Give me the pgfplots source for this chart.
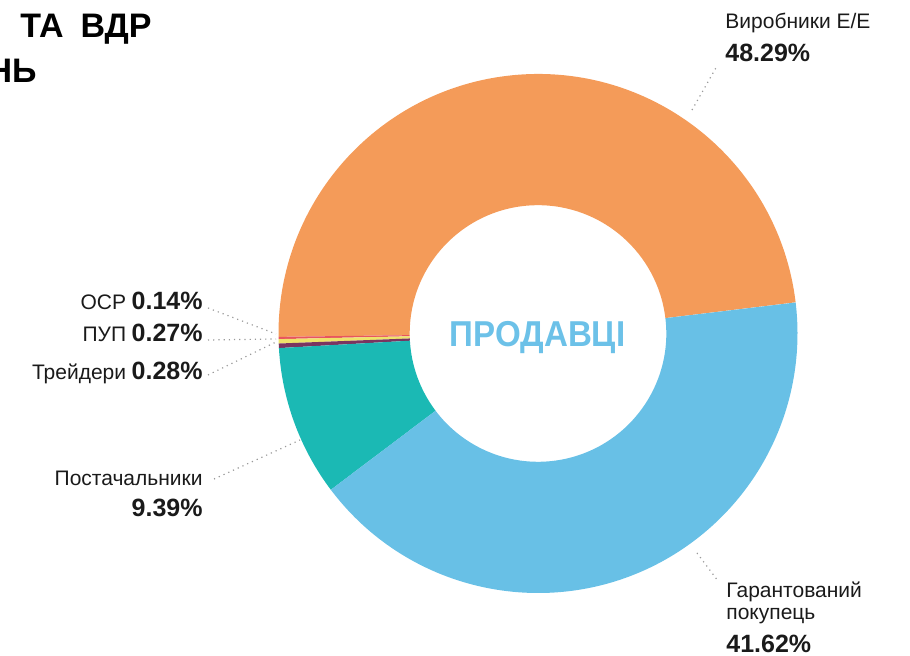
\documentclass[border=0pt]{standalone}
\usepackage{pgfplots}
\pgfplotsset{compat=1.18}
\usepackage{pgfplotstable}
\usetikzlibrary{calc}
\usepackage{fontspec}
\setmainfont{Liberation Sans}

\definecolor{cOrange}{HTML}{F49B59}
\definecolor{cBlue}{HTML}{68C0E6}
\definecolor{cTeal}{HTML}{1BB9B4}
\definecolor{cRed}{HTML}{E8555F}
\definecolor{cYellow}{HTML}{EEE36A}
\definecolor{cPurple}{HTML}{7A3560}
\definecolor{cTitle}{HTML}{6CC1E8}
\definecolor{cText}{HTML}{1A1A1A}
\definecolor{cLine}{HTML}{9A9A9A}

% shares of the sellers, in %, in drawing order (counter-clockwise)
\pgfplotstableread{
name value
Vyrobnyky 48.29
OSR 0.14
PUP 0.27
Treidery 0.28
Postachalnyky 9.39
Garantovanyi 41.62
}\datatable

\newcommand\lab[1]{{\fontsize{10.5}{12}\selectfont #1}}
\newcommand\pct[1]{{\fontsize{12.5}{14}\selectfont\bfseries #1}}

\begin{document}
\begin{tikzpicture}
\pgfplotstablegetelem{0}{value}\of\datatable \let\vA\pgfplotsretval
\pgfplotstablegetelem{1}{value}\of\datatable \let\vB\pgfplotsretval
\pgfplotstablegetelem{2}{value}\of\datatable \let\vC\pgfplotsretval
\pgfplotstablegetelem{3}{value}\of\datatable \let\vD\pgfplotsretval
\pgfplotstablegetelem{4}{value}\of\datatable \let\vE\pgfplotsretval
\pgfplotstablegetelem{5}{value}\of\datatable \let\vF\pgfplotsretval
\pgfmathsetmacro\aA{6.9}
\pgfmathsetmacro\aB{\aA+3.6*\vA}
\pgfmathsetmacro\aC{\aB+3.6*\vB}
\pgfmathsetmacro\aD{\aC+3.6*\vC}
\pgfmathsetmacro\aE{\aD+3.6*\vD}
\pgfmathsetmacro\aF{\aE+3.6*\vE}
\pgfmathsetmacro\aG{\aF+3.6*\vF}
\useasboundingbox (0,0) rectangle (455pt,328pt);
\clip (0,0) rectangle (455pt,328pt);
\begin{axis}[
  at={(0,0)}, anchor=south west,
  scale only axis, width=455pt, height=328pt,
  xmin=0, xmax=910, ymin=0, ymax=656,
  hide axis, clip=false,
]
\newcommand\sector[3]{%
  \fill[#3] ($(axis cs:538,322.5)+(#1:129.75pt)$)
    arc[start angle=#1, end angle=#2, radius=129.75pt]
    -- ($(axis cs:538,322.5)+(#2:64.15pt)$)
    arc[start angle=#2, end angle=#1, radius=64.15pt] -- cycle;}
\sector{\aA}{\aB}{cOrange}
\sector{\aB}{\aC}{cRed}
\sector{\aC}{\aD}{cYellow}
\sector{\aD}{\aE}{cPurple}
\sector{\aE}{\aF}{cTeal}
\sector{\aF}{\aG}{cBlue}

% leader lines
\draw[cLine, dotted, line width=0.6pt] (axis cs:692,546) -- (axis cs:717,590);
\draw[cLine, dotted, line width=0.6pt] (axis cs:697,103) -- (axis cs:718,75);
\draw[cLine, dotted, line width=0.6pt] (axis cs:214,177) -- (axis cs:300,216);
\draw[cLine, dotted, line width=0.6pt] (axis cs:208,348) -- (axis cs:276,322);
\draw[cLine, dotted, line width=0.6pt] (axis cs:208,316) -- (axis cs:276,317);
\draw[cLine, dotted, line width=0.6pt] (axis cs:208,281) -- (axis cs:276,314);

% labels
\node[anchor=base west, inner sep=0, text=cText] at (axis cs:725,627) {\lab{Виробники Е/Е}};
\node[anchor=base west, inner sep=0, text=cText] at (axis cs:725,594) {\pct{48.29\%}};
\node[anchor=base west, inner sep=0, text=cText] at (axis cs:726,58) {\lab{Гарантований}};
\node[anchor=base west, inner sep=0, text=cText] at (axis cs:726,36) {\lab{покупець}};
\node[anchor=base west, inner sep=0, text=cText] at (axis cs:726,3) {\pct{41.62\%}};
\node[anchor=base east, inner sep=0, text=cText] at (axis cs:203,170) {\lab{Постачальники}};
\node[anchor=base east, inner sep=0, text=cText] at (axis cs:203,139) {\pct{9.39\%}};
\node[anchor=base east, inner sep=0, text=cText] at (axis cs:203,346) {\lab{ОСР} \pct{0.14\%}};
\node[anchor=base east, inner sep=0, text=cText] at (axis cs:203,314) {\lab{ПУП} \pct{0.27\%}};
\node[anchor=base east, inner sep=0, text=cText] at (axis cs:203,276) {\lab{Трейдери} \pct{0.28\%}};

% centre caption
\node[anchor=base, inner sep=0, text=cTitle] at (axis cs:537.5,309) {\scalebox{0.92}[1]{\fontsize{18}{20}\selectfont\bfseries ПРОДАВЦІ}};

% truncated title
\node[anchor=base east, inner sep=0, text=black] at (axis cs:152,618) {\fontsize{17}{19}\selectfont\bfseries ТА\hspace{0.5em}ВДР};
\node[anchor=base east, inner sep=0, text=black] at (axis cs:37,573) {\fontsize{17}{19}\selectfont\bfseries НЬ};
\end{axis}
\end{tikzpicture}
\end{document}
